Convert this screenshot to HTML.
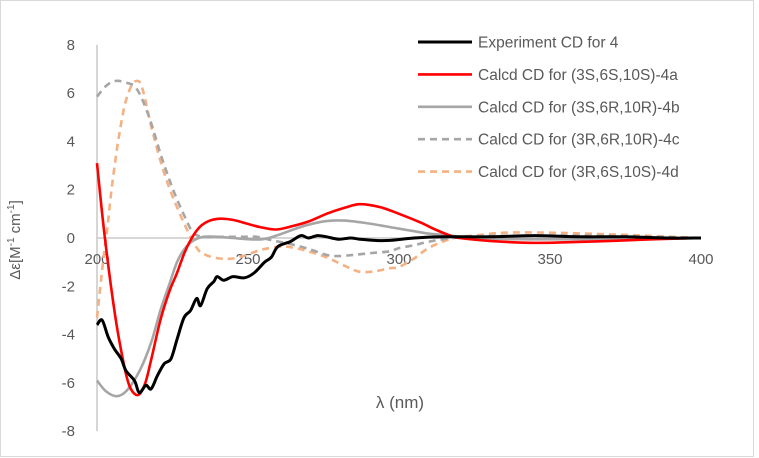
<!DOCTYPE html>
<html><head><meta charset="utf-8"><style>
body{margin:0;background:#fff}
svg{display:block;font-family:"Liberation Sans",Arial,sans-serif}
</style></head><body>
<svg id="chart" width="759" height="458" viewBox="0 0 759 458" xmlns="http://www.w3.org/2000/svg">
<rect x="0.5" y="0.5" width="753" height="456" fill="#fff" stroke="#d9d9d9"/>
<g id="axes"></g>
<g id="series"></g>
<g id="legend"></g>
<text x="400" y="408" font-size="17" fill="#595959" text-anchor="middle">λ (nm)</text>
<text transform="translate(20,240) rotate(-90)" font-size="15" fill="#595959" text-anchor="middle">Δε[M<tspan font-size="10" dy="-6">-1</tspan><tspan dy="6"> cm</tspan><tspan font-size="10" dy="-6">-1</tspan><tspan dy="6">]</tspan></text>
</svg>
<script>
const xTicks=[200,250,300,350,400];
const yTicks=[8,6,4,2,0,-2,-4,-6,-8];
const expX=[200,201.7,203.7,205.8,208,209.6,212.4,214,216.2,217.9,220,222.3,224.5,226.5,228.8,231,233,234.3,236.5,238.7,239.8,242,245,248.8,252,255.5,257.7,259.9,264,267.5,270,273,276,280,284,287,292,297,305,315,330,345,360,375,390,400];
const expY=[-3.6,-3.4,-4.1,-4.6,-5.0,-5.5,-5.9,-6.4,-6.1,-6.25,-5.7,-5.2,-5.0,-4.2,-3.3,-3.0,-2.5,-2.8,-2.1,-1.8,-1.6,-1.75,-1.6,-1.65,-1.45,-1.0,-0.8,-0.35,-0.15,0.1,0.0,0.1,0.05,-0.05,0.0,-0.05,-0.1,-0.1,0.0,0.05,0.05,0.1,0.05,0.05,0.0,0.0];
const aX=[200,202.6,206,209,211,213.6,216,218,221,224,226.5,229,231.4,234,237,240.7,245,249.5,254,259.4,265,270.4,276,282,287,293.7,300,307,312,317,320,330,343,355,370,385,400];
const aY=[3.1,0,-3.2,-5.3,-6.2,-6.5,-6.0,-5.0,-3.4,-2.2,-1.45,-0.6,0,0.45,0.7,0.8,0.75,0.6,0.45,0.35,0.5,0.7,1.0,1.25,1.4,1.28,1.0,0.65,0.35,0.1,0,-0.12,-0.2,-0.18,-0.12,-0.05,0];
const bX=[200,203,206.6,210,214.3,218,221,224,226.5,229,232,235.3,240,245,250,255,259.4,265,270,276,282,290,297,300.3,305,310,317,325,340,360,380,400];
const bY=[-5.9,-6.35,-6.55,-6.3,-5.45,-4.3,-3.0,-1.9,-1.0,-0.45,-0.1,0.05,0.05,0,-0.05,-0.05,0.1,0.35,0.55,0.7,0.72,0.6,0.45,0.38,0.28,0.18,0.1,0,-0.05,-0.05,-0.03,0];
const cX=[200,203,206,209,213,217,221,224,226.5,229,232,236,242,248,253,258,264,270,276,280,285,291,297,300,305,310,318,330,350,370,400];
const cY=[5.85,6.3,6.5,6.45,6.2,5.1,3.5,2.4,1.6,0.9,0.2,0.05,0.05,0.05,0.05,-0.1,-0.25,-0.45,-0.7,-0.75,-0.7,-0.62,-0.55,-0.42,-0.3,-0.15,0,0.08,0.1,0.08,0];
const dX=[200,202,203.5,205,207,209,211,213,215,218.6,223,228.5,233,236,240.7,245,249.5,254,258,262,265,270,276,282,287,292,297,300,305,310,318,325,335,350,370,385,400];
const dY=[-3.3,-1.0,0.5,2.2,4.0,5.4,6.2,6.5,6.2,4.3,2.4,0.7,-0.4,-0.7,-0.85,-0.85,-0.7,-0.5,-0.4,-0.35,-0.4,-0.55,-0.8,-1.15,-1.4,-1.38,-1.25,-1.2,-0.85,-0.4,0,0.1,0.22,0.22,0.15,0.08,0];
const legendLabels=["Experiment CD for 4","Calcd CD for (3S,6S,10S)-4a","Calcd CD for (3S,6R,10R)-4b","Calcd CD for (3R,6R,10R)-4c","Calcd CD for (3R,6S,10S)-4d"];

const NS="http://www.w3.org/2000/svg";
const X0=97,X1=701,Y0=238,YU=24.15;
function sx(v){return X0+(v-200)*(X1-X0)/200;}
function sy(v){return Y0-v*YU;}
function mk(t,a,p){const e=document.createElementNS(NS,t);for(const k in a)e.setAttribute(k,a[k]);p.appendChild(e);return e;}
const axes=document.getElementById('axes');
const ya=mk('line',{x1:X0,y1:sy(8),x2:X0,y2:sy(-8),stroke:'#bfbfbf','stroke-width':1.3},axes);


const xa=mk('line',{x1:X0,y1:Y0,x2:X1,y2:Y0,stroke:'#bfbfbf','stroke-width':1.3},axes);


yTicks.forEach(v=>{const t=mk('text',{x:X0-22,y:sy(v)+5,'font-size':15,fill:'#595959','text-anchor':'end'},axes);t.textContent=v;

});
xTicks.forEach(v=>{const t=mk('text',{x:sx(v),y:Y0+26,'font-size':15,fill:'#595959','text-anchor':'middle'},axes);t.textContent=v;

});
const ser=document.getElementById('series');
const styles=[['#000',3,null],['#ff0000',2.6,null],['#a6a6a6',2.6,null],['#a6a6a6',2.6,'7,5'],['#f4b183',2.6,'7,5']];
const sets=[[expX,expY],[aX,aY],[bX,bY],[cX,cY],[dX,dY]];
const names=['series-experiment','series-4a','series-4b','series-4c','series-4d'];
function smooth(xs,ys){let pts=xs.map((x,i)=>[sx(x),sy(ys[i])]);let d='M'+pts[0][0].toFixed(1)+','+pts[0][1].toFixed(1);
for(let i=0;i<pts.length-1;i++){const p0=pts[Math.max(0,i-1)],p1=pts[i],p2=pts[i+1],p3=pts[Math.min(pts.length-1,i+2)];
const c1=[p1[0]+(p2[0]-p0[0])/6,p1[1]+(p2[1]-p0[1])/6],c2=[p2[0]-(p3[0]-p1[0])/6,p2[1]-(p3[1]-p1[1])/6];
d+=` C${c1[0].toFixed(1)},${c1[1].toFixed(1)} ${c2[0].toFixed(1)},${c2[1].toFixed(1)} ${p2[0].toFixed(1)},${p2[1].toFixed(1)}`;}return d;}
[4,3,2,1,0].forEach(i=>{const s=styles[i];const a={d:smooth(sets[i][0],sets[i][1]),fill:'none',stroke:s[0],'stroke-width':s[1],'stroke-linejoin':'round'};if(s[2])a['stroke-dasharray']=s[2];
const p=mk('path',a,ser);

});
const lg=document.getElementById('legend');
legendLabels.forEach((lab,i)=>{const y=42+i*32.4;const s=styles[i];
const g=mk('g',{},lg);


const a={x1:418,y1:y,x2:472,y2:y,stroke:s[0],'stroke-width':s[1]};if(s[2])a['stroke-dasharray']=s[2];mk('line',a,g);
const t=mk('text',{x:478,y:y+5.5,'font-size':15.5,fill:'#595959'},g);t.textContent=lab;});
</script>
</body></html>
